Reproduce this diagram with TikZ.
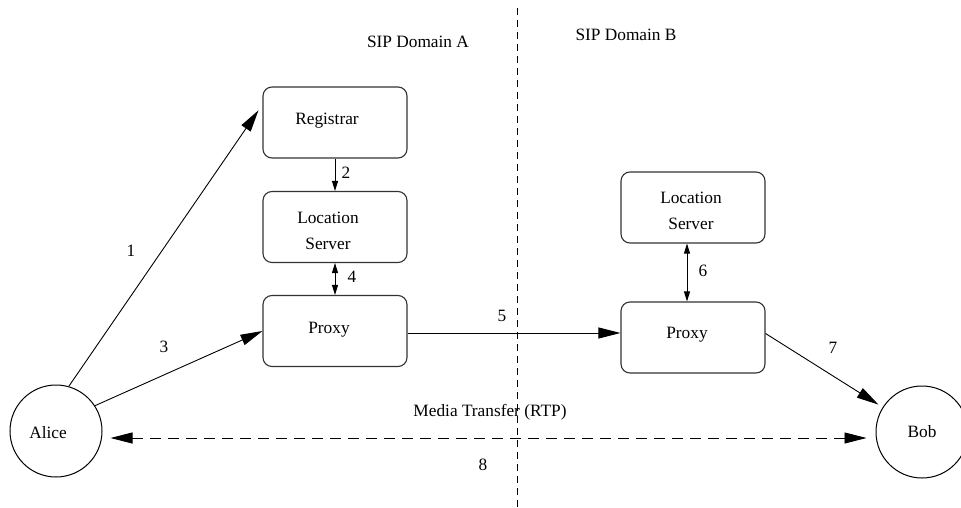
\documentclass[tikz,border=0pt]{standalone}
\usepackage{fontspec}
\setmainfont{Liberation Serif}
\usetikzlibrary{arrows.meta,calc}
\begin{document}
\begin{tikzpicture}[x=1pt,y=-1pt,
  box/.style={draw=black!80,line width=1.1pt,rounded corners=9pt,minimum width=144pt,minimum height=71pt,inner sep=0pt},
  circ/.style={draw,circle,line width=1pt,minimum size=92pt,inner sep=0pt},
  txt/.style={font=\fontsize{17.3}{25.5}\selectfont,align=center,inner sep=0pt},
  conn/.style={line width=0.9pt},
  big/.style={-{Triangle[length=22pt,width=11pt]}},
  bigboth/.style={{Triangle[length=22pt,width=11pt]}-{Triangle[length=22pt,width=11pt]}},
  small/.style={-{Triangle[length=10pt,width=6pt]}},
  smallboth/.style={{Triangle[length=10pt,width=6pt]}-{Triangle[length=10pt,width=6pt]}},
  divider/.style={line width=0.9pt,dash pattern=on 7pt off 5pt}]
\clip (0,0) rectangle (961,508);
\fill[white] (0,0) rectangle (961,508);

% domain divider
\coordinate (dtop) at (517,8);
\coordinate (dbot) at (517,508);
\draw[divider] (dtop) -- (dbot);
\node[txt] at (418,42) {SIP Domain A};
\node[txt] at (626,35) {SIP Domain B};

% boxes
\node[box] (Reg) at (335,122.5) {};
\node[txt] at (327,121) {Registrar};
\node[box] (LocA) at (335,227) {};
\node[txt] at (328,231) {Location\\Server};
\node[box] (ProxyA) at (335,331) {};
\node[txt] at (329,330) {Proxy};
\node[box] (LocB) at (693,207.5) {};
\node[txt] at (691,211) {Location\\Server};
\node[box] (ProxyB) at (693,337.5) {};
\node[txt] at (687,335) {Proxy};

% endpoints
\node[circ] (Alice) at (56,431) {};
\node[txt] at (48,433) {Alice};
\node[circ] (Bob) at (922,432) {};
\node[txt] at (922,432) {Bob};

% connectors
\draw[conn,big,shorten >=7pt] (Alice.74) -- ([yshift=18pt]Reg.west);
\node[txt] at (131,251) {1};
\draw[conn,small] (Reg.south) -- (LocA.north);
\node[txt] at (346,173) {2};
\draw[conn,big] (Alice.33) -- (ProxyA.west);
\node[txt] at (164,347) {3};
\draw[conn,smallboth] (LocA.south) -- (ProxyA.north);
\node[txt] at (352,277) {4};
\draw[conn,big] ([yshift=-2pt]ProxyA.east) -- ([yshift=-2pt]ProxyA.east -| ProxyB.west);
\node[txt] at (502,316) {5};
\draw[conn,smallboth] ([xshift=-6pt]LocB.south) -- ([xshift=-6pt]ProxyB.north);
\node[txt] at (703,271) {6};
\draw[conn,big,shorten >=5pt] ([yshift=4pt]ProxyB.east) -- (Bob);
\node[txt] at (833,348) {7};
\draw[conn,bigboth,dash pattern=on 11pt off 7pt] ($(Alice.east)+(8,7)$) -- ($(Bob.west)+(-9,6)$);
\node[txt] at (490,412) {Media Transfer (RTP)};
\node[txt] at (483,465) {8};
\end{tikzpicture}
\end{document}
